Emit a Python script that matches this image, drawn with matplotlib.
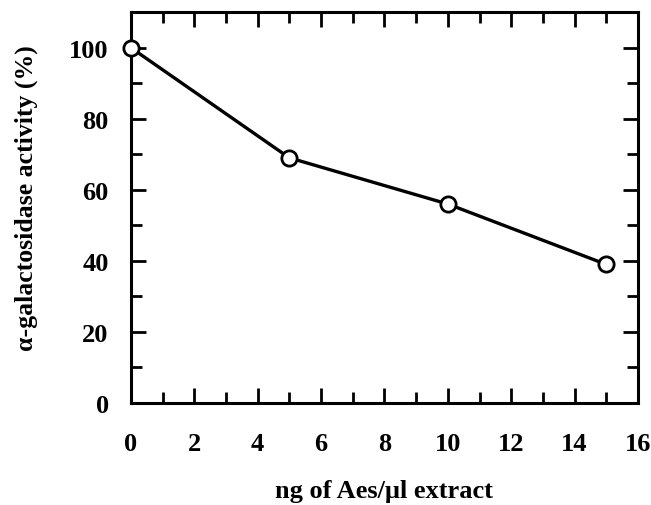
import matplotlib.pyplot as plt
from matplotlib.ticker import MultipleLocator

# data
ng_aes = [0, 5, 10, 15]
activity = [100, 69, 56, 39]

plt.rcParams['font.family'] = ['Liberation Serif', 'DejaVu Serif']
plt.rcParams['font.weight'] = 'bold'

fig = plt.figure(figsize=(6.51, 5.06), dpi=100)
ax = fig.add_axes([0.201, 0.2016, 0.779, 0.7724])

ax.plot(ng_aes, activity, color='black', lw=2.4, marker='o', markersize=11,
        markerfacecolor='white', markeredgecolor='black', markeredgewidth=2, clip_on=False, zorder=3)

ax.set_xlim(0, 16)
ax.set_ylim(0, 110)
ax.xaxis.set_major_locator(MultipleLocator(2))
ax.xaxis.set_minor_locator(MultipleLocator(1))
ax.yaxis.set_major_locator(MultipleLocator(20))
ax.yaxis.set_minor_locator(MultipleLocator(10))

ax.tick_params(which='both', direction='in', top=True, right=True, width=2, labelsize=19)
ax.tick_params(which='major', length=11)
ax.tick_params(which='minor', length=8)
ax.tick_params(axis='x', pad=21)
ax.tick_params(axis='y', pad=16)
for s in ax.spines.values():
    s.set_linewidth(2.2)

ax.set_xlabel('ng of Aes/\u03bcl extract', fontsize=19, fontweight='bold', va='baseline')
ax.set_ylabel('\u03b1-galactosidase activity (%)', fontsize=18.5, fontweight='bold')
ax.xaxis.set_label_coords(0.5, -0.240)
ax.yaxis.set_label_coords(-0.183, 0.527)

plt.savefig('out.png', dpi=100)
